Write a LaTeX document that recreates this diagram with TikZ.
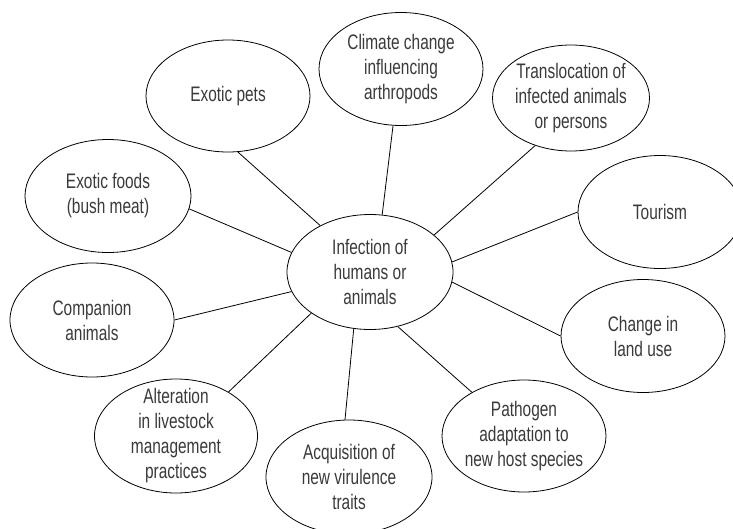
\documentclass[tikz,border=0pt]{standalone}
\usepackage{fontspec}
\setmainfont{Liberation Sans}[FakeStretch=0.735]
\usetikzlibrary{shapes.geometric}
\definecolor{txtgray}{HTML}{3A3A3A}
\tikzset{
  ell/.style={ellipse, draw=black, line width=0.8pt, inner sep=0pt,
    minimum width=164pt, minimum height=113pt},
  txt/.style={text=txtgray, align=center, inner sep=0pt,
    font=\fontsize{21}{25}\selectfont},
  link/.style={draw=black, line width=0.8pt}
}
\begin{document}
\begin{tikzpicture}[x=1pt, y=-1pt]
\path[use as bounding box, clip] (0,0) rectangle (733,528);
\fill[white] (0,0) rectangle (733,528);

\node[ell, minimum width=166pt, minimum height=115pt,
  label={[txt]center:Infection of\\humans or\\animals}] (c) at (370,272) {};

\node[ell, minimum height=112pt, label={[txt]center:Exotic pets}] (pets) at (228,96) {};
\node[ell, label={[txt]center:Climate change\\influencing\\arthropods}] (clim) at (401,69) {};
\node[ell, minimum width=157pt, minimum height=106pt,
  label={[txt]center:Translocation of\\infected animals\\or persons}] (trans) at (571,98) {};
\node[ell, label={[txt]center:Tourism}] (tour) at (660,212) {};
\node[ell, label={[txt]center:Change in\\land use}] (land) at (643,336) {};
\node[ell, minimum height=112pt,
  label={[txt]center:Pathogen\\adaptation to\\new host species}] (path) at (524,436) {};
\node[ell, minimum width=166pt, minimum height=114pt,
  label={[txt]center:Acquisition of\\new virulence\\traits}] (acq) at (349,477) {};
\node[ell, minimum width=163pt, minimum height=114pt,
  label={[txt]center:Alteration\\in livestock\\management\\practices}] (alt) at (176,436) {};
\node[ell, minimum height=114pt, label={[txt]center:Companion\\animals}] (comp) at (92,320) {};
\node[ell, minimum width=166pt, label={[txt]center:Exotic foods\\(bush meat)}] (food) at (108,196) {};

\draw[link] (c.137.4) -- (pets.-80);
\draw[link] (c.78.9) -- (clim.-98);
\draw[link] (c.30) -- (trans.-127.6);
\draw[link] (c.7) -- (tour.180);
\draw[link] (c.-7.8) -- (land.180);
\draw[link] (c.-63) -- (path.140);
\draw[link] (c.-106.6) -- (acq.94);
\draw[link] (c.215.3) -- (alt.40.8);
\draw[link] (c.194.7) -- (comp.0);
\draw[link] (c.166) -- (food.-9.6);
\end{tikzpicture}
\end{document}
